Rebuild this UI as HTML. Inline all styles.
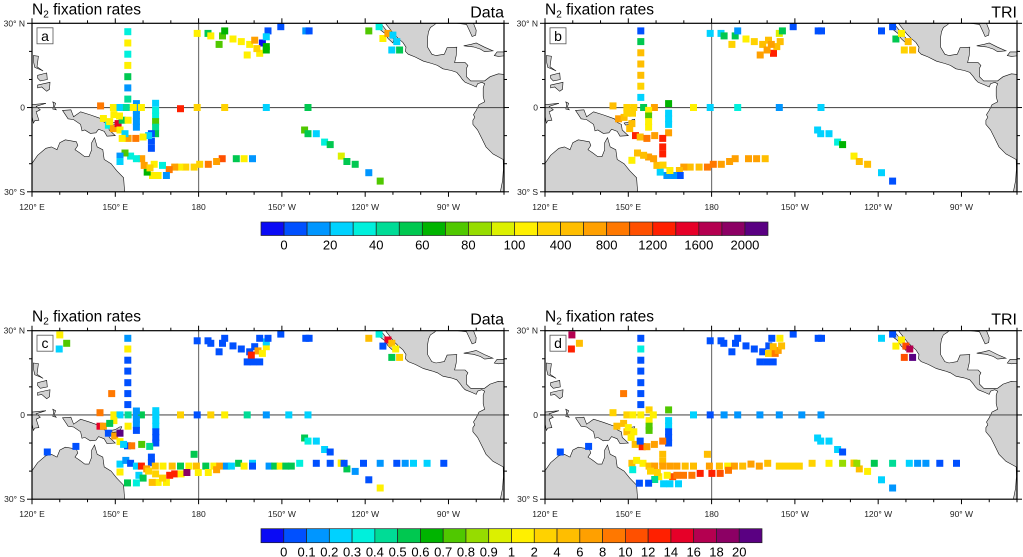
<!DOCTYPE html>
<html><head><meta charset="utf-8">
<style>
html,body{margin:0;padding:0;background:#fff;}
svg{display:block;font-family:"Liberation Sans",Arial,sans-serif;}
</style></head>
<body>
<svg id="fig" width="1023" height="557" viewBox="0 0 1023 557" xmlns="http://www.w3.org/2000/svg">
<defs>
<clipPath id="clipA"><rect x="32" y="23.3" width="472" height="168.5"/></clipPath>
<clipPath id="clipB"><rect x="545" y="23.3" width="472" height="168.5"/></clipPath>
<clipPath id="clipC"><rect x="32" y="330.7" width="472" height="168.5"/></clipPath>
<clipPath id="clipD"><rect x="545" y="330.7" width="472" height="168.5"/></clipPath>
</defs>
</svg>
<script>
// ---- data ----
const palette = ["#0a0af5","#0050ff","#0096ff","#00d2ff","#00f0dc","#00dc96","#00c850","#00b400","#50c800","#96dc00","#dcf000","#fff000","#ffd200","#ffbe00","#ffa000","#ff7800","#ff5000","#ff2000","#e60028","#b40050","#8c0064","#5a0082"];
const topBarLabels = ["0","20","40","60","80","100","400","800","1200","1600","2000"];
const bottomBarLabels = ["0","0.1","0.2","0.3","0.4","0.5","0.6","0.7","0.8","0.9","1","2","4","6","8","10","12","14","16","18","20"];
const lonTicks = [120,150,180,210,240,270];
const lonTickLabels = ["120° E","150° E","180","150° W","120° W","90° W"];
const latTicks = [30,0,-30];
const latTickLabels = ["30° N","0","30° S"];
// points: [lon(deg E), lat, colour class 1..22]
const panelA = [
[154.5,27,5],[154.5,23,12],[154.5,19,5],[154.5,15,12],[154.5,11,7],[154.5,7,3],[154.5,3,6],
[179.5,26.4,12],[183.4,26.4,7],[184.4,25.5,12],[187.4,22.5,9],[188.6,25.5,9],[189.4,27.3,8],[192.4,24.4,12],[195.4,23.5,12],[198.4,22.5,12],[197.5,18.7,12],[200.2,24,15],[202,19.3,12],[203,23,1],[204.4,21.7,8],[204.4,20.5,8],[205,27.3,2],[204.4,25.2,4],[201,21,13],[209.6,28.8,2],[218.6,27.3,3],[219.8,27.3,2],
[241.3,27.3,9],[245,28.8,5],[246.4,24.6,12],[248.2,26.4,15],[250,25.8,4],[251.4,23.5,4],[249.6,20.5,4],[252.4,20.5,7],
[173.5,-0.4,18],[179.5,0,13],[189.4,0,13],[204.4,0,4],[219.4,0,7],
[218.2,-8,9],[219.4,-9.3,7],[222.4,-9.3,4],[225.4,-12.3,5],[227.4,-13.2,7],[231.4,-17.3,11],[233.4,-19.2,7],[236.4,-20.2,7],[241.3,-23.2,3],[245.4,-26.2,9],
[188.5,-18.2,17],[186.5,-19.2,15],[183.5,-20.2,16],[180.4,-20.2,13],[178.4,-21.2,13],[175.4,-21.2,13],[173.2,-21.2,12],[171.4,-21.2,15],[169.4,-22.1,16],[168.4,-24.2,3],[165.4,-24.2,12],[163.4,-24.2,12],[161.5,-23,8],[160.4,-20.6,15],[159.5,-18.2,15],[157.6,-18.2,5],[155.5,-17.3,5],[153.5,-16.2,9],[151.7,-17.3,3],[151.7,-19.2,4],[164,-20.2,12],[167,-20.6,5],[162.5,-21.5,13],[193.6,-18.2,7],[196.4,-18.2,12],[199.4,-18.2,3],
[157.6,1.4,3],[157.6,-1,3],[157.6,-3,3],[157.6,-5,3],[157.6,-7,3],
[164.5,1.5,4],[164.5,-1,5],[164.5,-3,5],[164.5,-5,9],[164.5,-7,6],[164.5,-9.3,7],
[163,-9.3,2],[163,-12,2],[163,-14.5,2],
[144.7,0.6,16],[149.3,0,12],[151.7,0,4],[154,0,6],[159.4,0,12],[156.5,0,12],
[145.7,-3.9,12],[147.5,-6.3,5],[149.3,-7.5,15],[151,-5.7,19],[151.7,-8,12],[152.5,-4.5,7],[154.6,-4.5,12],[154.6,-11,15],[157.4,-11,16],[162,-10,4],[153.5,-9.3,4],[149.5,-2.5,12],[151.5,-3,12],[148,-5,12],[152.5,-11,12],[160,-10.5,12]
];
const panelB = [
[154.5,27.3,2],[154.5,23.5,7],[154.5,19.5,14],[154.5,15.5,14],[154.5,11.5,14],[154.5,7.6,13],[154.5,3.6,4],
[179.5,26.4,4],[183.4,26.4,4],[184.5,25.5,7],[187.3,22.5,13],[188.5,25.5,7],[189.4,27.3,3],[192.4,24.4,12],[195.4,23.5,13],[198.4,22.5,14],[197.5,18.7,15],[200.5,24,14],[202.3,19.3,18],[203.5,21.7,14],[204.7,23.5,14],[204.4,26.4,11],[205.5,27.3,7],[200,20.5,15],[201.5,22.5,15],[209.4,28.8,2],[218.4,27.3,2],[219.6,27.3,2],
[241.2,27.3,2],[245.2,28.8,2],[246.4,24.4,7],[248.4,26.4,12],[250.8,23.5,14],[249.4,20.5,13],[252.4,20.5,14],
[144.5,0.6,14],[149.5,0,13],[152,0,13],[155.5,0,7],[159.4,0,15],[164.5,1.4,8],[173.5,0,12],[179.5,0,4],[189.4,0,5],[204.4,0,3],[219.4,0,4],
[164.5,-2,4],[164.5,-4,4],[164.5,-6,4],[164.5,-9,15],[157.3,-1,12],[157.3,-3,9],[157.3,-5,12],[157.3,-7,12],
[162.4,-14,18],[162.4,-16.5,18],
[146.5,-4,15],[148.5,-3.5,14],[151.3,-5.7,14],[150.5,-7.5,14],[152.6,-10,18],[154.3,-10.5,14],[156.7,-11,16],[159.5,-10,15],[162.4,-11,18],[149.5,-2,13],[151.5,-2,13],
[218.2,-8,4],[219.3,-9.3,4],[222.3,-9.3,4],[225.4,-12.3,5],[227.2,-13.2,8],[231.3,-17.3,12],[233.2,-19.2,14],[236.2,-20.2,14],[241.2,-23.2,4],[245.2,-26.2,2],
[188.5,-18.2,15],[186.5,-19.2,15],[183.5,-20.2,15],[180.6,-20.2,16],[178.5,-21.2,16],[175.5,-21.2,14],[172.3,-21.2,14],[170,-21.2,15],[168.4,-22.4,14],[168.7,-24.2,2],[166.3,-24.2,3],[163.9,-24.2,3],[161.5,-23,4],[165,-22.4,12],[160.3,-20.6,14],[159.1,-18.2,15],[157.3,-17.6,15],[155.5,-17,14],[153.3,-16.2,14],[151.3,-18.8,12],[162.5,-20.5,13],[193.3,-18.2,15],[196.2,-18.2,15],[199.3,-18.2,14]
];
const panelC = [
[130,28.5,12],[132.5,25.5,9],[129.8,23.5,4],
[154.5,27.3,3],[154.5,23.5,12],[154.5,19.5,2],[154.5,15.6,2],[154.5,11.5,2],[154.5,7.6,2],[154.5,3.7,2],[148.7,7.6,16],
[179.5,26.4,2],[183.4,26.4,2],[184.4,25.5,2],[187.4,22.5,2],[188.6,25.5,2],[189.4,27.3,2],[192.4,24.6,2],[195.4,23.5,2],[198.4,22.5,2],[197.5,18.9,2],[199.6,18.9,2],[202,18.9,2],[200.2,24.3,2],[201.4,22.8,15],[203,21.9,12],[204.4,24.3,12],[204.4,26,4],[202,27.3,2],[205,27.3,2],[199,21.3,18],[209.6,28.8,2],[218.6,27.3,2],[219.8,27.3,2],
[241.3,27.3,14],[245,28.8,5],[248.2,26.7,19],[246.4,24.5,2],[249.6,25.5,14],[251,23.5,12],[249.6,20.5,7],[252.4,20.5,13],
[144.5,0.8,16],[149.5,0,12],[151.7,0,4],[154.6,0,6],[157.6,0,3],[159.4,0,7],[164.6,0,4],[173.5,0,13],[179.5,0,2],[184.4,0,13],[189.4,0,12],[197.5,0,6],[204.4,0,3],[212.5,0,4],[219.4,0,4],
[157.6,1.4,3],[157.6,-1.5,3],[157.6,-3.5,3],[157.6,-5.5,2],
[164.6,1.5,4],[164.6,-2,4],[164.6,-4,4],[164.6,-6,2],[164.6,-8,2],[164.6,-10,2],
[163,-15,2],[163,-17,2],
[144.5,-4,19],[145.7,-4,15],[147.5,-6.5,2],[149.8,-7.5,15],[151.7,-6.5,22],[151.7,-9.5,12],[149.5,-2,12],[148,-3,7],[154.6,-4,12],[154.4,-11,2],[155.9,-11,16],[159.5,-10.5,9],[153,-10.5,4],[162.4,-11.2,6],
[125.5,-13.2,2],[135.8,-11.2,2],
[218.2,-8.2,7],[219.4,-9.3,5],[222.4,-9.3,4],[225.4,-12.3,4],[227.4,-13.2,2],[231.4,-17.1,12],[233.4,-19.2,7],[236.4,-20.1,3],[241.3,-23.1,2],[245.4,-26,12],
[151.7,-17.5,4],[153.8,-16.2,3],[155.5,-17.2,2],[157.6,-18.2,4],[159.4,-18.2,18],[161.3,-19.2,15],[164.4,-18.2,14],[167.2,-18.2,12],[170.5,-18.2,14],[173.5,-18.2,7],[176.5,-18.2,12],[179.2,-18.2,14],[182.6,-18.2,7],[185.5,-18.2,12],[187.6,-18.2,15],[190,-18.2,3],[191.8,-18.2,4],[194.4,-17.2,7],[196.4,-18.2,12],[199.4,-17.2,4],[199.4,-18.2,2],[205.4,-18.2,3],[207.4,-18.2,7],[209.4,-18.2,12],[211.4,-18.2,7],[213.4,-18.2,7],[216.4,-17.2,5],[222.4,-17.2,2],[227.4,-17.2,2],[231.4,-17.2,12],[232.4,-17.2,2],[239.4,-17.2,2],[245.4,-17.2,3],[251.4,-17.2,2],[254.4,-17.2,3],[257.4,-17.2,4],[262.3,-17.2,4],[268.3,-17.2,2],
[178.4,-14,7],[158.5,-21.5,4],[160,-22.5,7],[165.4,-24,12],[168.4,-24,12],[163.3,-24,14],[169.6,-21.5,18],[171.4,-21,18],[173.7,-21,12],[175.8,-20.5,21],[179.9,-20.5,12],[183.5,-20.5,12],[186.5,-19.5,15],[154.4,-24.2,7],[157.6,-24.2,5],[151.7,-20.3,12],[162,-20,13],[164.5,-21,13],[167,-22.5,13]
];
const panelD = [
[129.7,28.5,20],[132.4,25.5,14],[129.5,23.5,18],[148.3,7.6,16],
[154.5,27.3,2],[154.5,23.5,5],[154.5,19.5,2],[154.5,15.6,2],[154.5,11.5,2],[154.5,7.6,2],[154.5,3.7,2],
[179.5,26.4,2],[183.4,26.4,2],[184.4,25.5,2],[187.3,22.5,2],[188.6,25.5,2],[189.4,27.3,2],[192.4,24.6,2],[195.4,23.5,2],[198.4,22.5,2],[197.4,18.9,2],[199.8,18.9,2],[202.2,18.9,2],[200.6,24.6,2],[201.7,27.3,2],[204.6,27.3,12],[200.5,21.9,13],[202.9,21.9,16],[204,23,15],[202.2,24.3,14],[205.2,24.6,14],[209.4,28.8,2],[218.4,27.3,2],[219.6,27.3,2],
[241.2,27.3,4],[245.2,28.8,2],[246.4,24.5,12],[248.4,26.7,12],[250,24.5,17],[251.4,23.5,20],[249.4,20.5,17],[252.4,20.5,22],
[144.5,0.8,13],[149.5,0,13],[151.7,0,12],[154.5,0,12],[157.5,1.8,13],[159,0,12],[164.5,1.8,9],[173.5,0,4],[179.5,0,2],[184.5,0,3],[189.4,0,3],[197.4,0,3],[204.4,0,3],[212.5,0,3],[219.4,0,3],
[164.5,-2,4],[164.5,-4,4],[164.5,-6,2],[164.5,-8,2],[164.5,-10,2],[157.5,-2,12],[157.5,-4,9],[157.5,-5.5,9],
[145.9,-4,14],[148.3,-3,14],[149.5,-6,14],[151,-8,12],[152.5,-10.5,14],[155,-11.3,18],[156.7,-11.3,15],[159.4,-10.5,15],[162.4,-9.3,16],[154.3,-9.3,2],[150,-4.5,12],[152,-6,12],
[125.5,-13.2,2],[135.7,-11.2,2],
[218.2,-8.2,4],[219.3,-9.3,4],[222.3,-9.3,4],[225.4,-12.3,4],[227.2,-13.2,2],[231.3,-17.1,12],[233.2,-19.2,14],[236.2,-20.1,12],[241.2,-23.1,4],[245.2,-26,3],
[151.3,-17.2,14],[153,-16.2,12],[155.3,-17.2,12],[157.5,-18.2,14],[159.5,-18.2,15],[162.4,-14,14],[162.4,-16.5,14],[162.4,-18.2,15],[165,-18.2,15],[167.5,-18.2,15],[170.5,-18.2,14],[173.5,-18.2,14],[178.5,-14,14],[179.2,-18.2,15],[182.8,-18.2,14],[185.8,-18.2,12],[188.2,-18.2,15],[191.2,-18.2,14],[194.2,-17.5,15],[197.2,-18.2,15],[200.2,-17.2,14],[204.4,-18.2,13],[206.8,-18.2,13],[209.2,-18.2,13],[211.6,-18.2,13],[216.2,-17.2,13],[222.3,-17.2,12],[227.2,-17.2,10],[231.3,-17.2,14],[232.3,-17.2,10],[238.6,-17.2,7],[245.2,-17.2,6],[251.2,-17.2,4],[254.2,-17.2,3],[257.2,-17.2,3],[262.2,-17.2,2],[268.2,-17.2,2],
[169.9,-21.5,16],[172.9,-21.5,16],[175.9,-20.8,18],[180.1,-20.8,18],[183.1,-20.8,17],[186.1,-19.7,16],[166,-22,17],[164,-21.5,12],[161,-22,12],[159.5,-23,6],[162.7,-24.5,4],[165,-24.5,4],[168.1,-24.5,4],[154,-24.3,2],[157.3,-24.3,2],[151.6,-19.5,5],[167.5,-21.5,16],[158,-20,13],[160.5,-20.5,13]
];
const panels = [
 {id:"a", x0:32, y0:23.3, pts:panelA, right:"Data", clip:"clipA"},
 {id:"b", x0:545, y0:23.3, pts:panelB, right:"TRI", clip:"clipB"},
 {id:"c", x0:32, y0:330.7, pts:panelC, right:"Data", clip:"clipC"},
 {id:"d", x0:545, y0:330.7, pts:panelD, right:"TRI", clip:"clipD"}
];
// land polygons (lon,lat)
const australia = [[118,-19.9],[120,-19.9],[122,-17],[125,-14.5],[127,-14],[129,-15],[130,-12.5],[132,-11.5],[135,-12],[136,-12.2],[136.5,-13.5],[135.5,-15],[137,-16],[139,-17.5],[140.5,-17.5],[141.5,-15],[141.5,-12.5],[142.5,-10.7],[143.5,-14],[145.5,-15],[146,-18.5],[148.5,-20],[150.5,-22.5],[153,-25],[153.2,-28],[153.5,-31],[118,-31]];
const newGuinea = [[131,-1],[134,-0.8],[135,-3.3],[137.5,-1.5],[141,-2.6],[145,-4],[146,-5.3],[147.5,-6],[147.8,-8],[150,-10],[147,-10.2],[146,-8.5],[144,-7.7],[143,-9],[141,-9.2],[139,-8],[138,-8.3],[137.5,-6],[135,-4.3],[133,-4],[132,-2.5]];
const newBritain = [[148.5,-5.5],[150,-5.2],[151.5,-4.3],[152.3,-4.2],[152,-5],[151,-6],[149,-6.2]];
const luzon = [[120.5,18.5],[122.3,18.3],[122,16],[121.8,14.5],[124,13],[123,13.5],[121,14.3],[120.6,16]];
const mindanao = [[122,8],[126.5,9],[126.3,6.5],[125.3,5.8],[123.5,7.3],[122,7]];
const visayas = [[122,11.5],[125.3,12.3],[125.5,10],[123,9.5],[122,10.5]];
const sulawesi = [[120,1],[125,1.5],[121.5,0.4],[123,-0.8],[121.5,-1.5],[122.5,-4.5],[121,-4.7],[120.5,-5.5],[120,-3]];
const halmahera = [[127.5,2],[128.5,1.5],[128,0],[128.7,-0.8],[127.5,-0.5],[127.8,1]];
const mexico = [[240,30.5],[247.3,30.5],[247.3,30],[250.5,26],[252,24.5],[253.6,23.2],[254.7,21.5],[254.5,20],[255.5,19],[258,18],[261,16.5],[264,15.7],[266,15],[268,13.8],[271,13.2],[273,12.5],[274.3,11],[275,10],[276,9],[278.5,8],[280,7.3],[280.5,8.5],[282,9],[283,8.5],[282.5,7],[282.5,4],[283,2],[281,1],[280,-1],[279,-2.5],[279.5,-3.5],[278.8,-4.5],[278.8,-6],[280.5,-8],[282,-11],[283.5,-14],[286,-16.5],[289.7,-18.5],[289.8,-22],[289.5,-26],[288.5,-31],[292,-31],[292,11.5],[290,11.8],[288,12],[285,11],[283,9.5],[280,9.5],[278,9.5],[276.5,11],[276.5,14],[277,15],[276,16],[272.2,16],[272.8,18.5],[273,21.5],[269.5,21.3],[268.5,19],[265.5,18.5],[264,19],[262.5,21.5],[262.5,25],[262.8,27],[263.5,28.5],[265,29.5],[266,30.5]];
const baja = [[244.2,31],[244.2,30],[245,28],[247,26.5],[248.3,24.5],[250,23],[250.3,24.2],[248.6,26.5],[247.2,28],[245.6,30],[245.6,31]];
const usa = [[268,31],[268,30.1],[271,30.3],[276.5,29.6],[277.5,27.5],[278.5,25.3],[279.8,25.8],[280,27.5],[279,30],[292,30],[292,31]];
const cuba = [[275.5,22],[278,22.5],[280,23],[283,21.5],[286,20.2],[283,19.9],[281.5,20.8],[279,21.6],[277,21.8]];
const hispaniola = [[287.5,19.8],[290.5,19.8],[291,18.5],[288,18.2],[286.5,18.5]];
const landShapes = [australia,newGuinea,newBritain,luzon,mindanao,visayas,sulawesi,halmahera,mexico,baja,usa,cuba,hispaniola];

// ---- drawing ----
const NS = "http://www.w3.org/2000/svg";
const svg = document.getElementById("fig");
const W = 472, H = 168.5;
function mk(tag, attrs, parent){ const e=document.createElementNS(NS,tag); for(const k in attrs) e.setAttribute(k,attrs[k]); (parent||svg).appendChild(e); return e; }
function xScale(p, lon){ return p.x0 + (lon-120)/170*W; }
function yScale(p, lat){ return p.y0 + (30-lat)/60*H; }

panels.forEach(p=>{
  const g = mk("g",{});
  
  
  const title = mk("text",{x:p.x0, y:p.y0-9, "font-size":"15.5"}, g);
  title.innerHTML = 'N<tspan font-size="10" dy="3">2</tspan><tspan dy="-3"> fixation rates</tspan>';
  
  
  const rt = mk("text",{x:p.x0+W, y:p.y0-6, "font-size":"16", "text-anchor":"end"}, g);
  rt.textContent = p.right;
  
  
  const cg = mk("g",{"clip-path":"url(#"+p.clip+")"}, g);
  landShapes.forEach(poly=>{
    const d = poly.map((q,i)=>(i?"L":"M")+xScale(p,q[0]).toFixed(1)+","+yScale(p,q[1]).toFixed(1)).join("")+"Z";
    const land = mk("path",{d:d, fill:"#d2d2d2", stroke:"#111", "stroke-width":"0.6"}, cg);
    
    
  });
  const gl1 = mk("line",{x1:xScale(p,180),x2:xScale(p,180),y1:p.y0,y2:p.y0+H,stroke:"#777","stroke-width":"1.2"}, cg);
  
  
  const gl2 = mk("line",{x1:p.x0,x2:p.x0+W,y1:yScale(p,0),y2:yScale(p,0),stroke:"#555","stroke-width":"1.2"}, cg);
  
  
  p.pts.forEach(pt=>{
    const r = mk("rect",{x:(xScale(p,pt[0])-3.5).toFixed(1), y:(yScale(p,pt[1])-3.5).toFixed(1), width:7, height:7, fill:palette[pt[2]-1]}, cg);
    
    
  });
  const fr = mk("rect",{x:p.x0,y:p.y0,width:W,height:H,fill:"none",stroke:"#000","stroke-width":"1.2"}, g);
  
  
  // lon ticks
  for(let lon=120; lon<=290; lon+=10){
    const major = lonTicks.indexOf(lon)>=0;
    const x = xScale(p,lon), len = major?5:3;
    const t1 = mk("line",{x1:x,x2:x,y1:p.y0+H,y2:p.y0+H+len,stroke:"#000","stroke-width":"1"}, g);
    
    
    const t2 = mk("line",{x1:x,x2:x,y1:p.y0,y2:p.y0-len,stroke:"#000","stroke-width":"1"}, g);
    
    
  }
  lonTicks.forEach((lon,i)=>{
    const t = mk("text",{x:xScale(p,lon), y:p.y0+H+18, "font-size":"8.5","text-anchor":"middle", fill:"#222"}, g);
    t.textContent = lonTickLabels[i];
    
    
  });
  for(let lat=-30; lat<=30; lat+=10){
    const major = latTicks.indexOf(lat)>=0;
    const y = yScale(p,lat), len = major?5:3;
    const t1 = mk("line",{x1:p.x0,x2:p.x0-len,y1:y,y2:y,stroke:"#000","stroke-width":"1"}, g);
    
    
    const t2 = mk("line",{x1:p.x0+W,x2:p.x0+W+len,y1:y,y2:y,stroke:"#000","stroke-width":"1"}, g);
    
    
  }
  latTicks.forEach((lat,i)=>{
    const t = mk("text",{x:p.x0-7, y:yScale(p,lat)+3, "font-size":"8.5","text-anchor":"end", fill:"#222"}, g);
    t.textContent = latTickLabels[i];
    
    
  });
  const lb = mk("rect",{x:p.x0+5,y:p.y0+4.5,width:16,height:16,fill:"#fff",stroke:"#555","stroke-width":"0.8"}, g);
  
  
  const lt = mk("text",{x:p.x0+13,y:p.y0+17.5,"font-size":"14","text-anchor":"middle"}, g);
  lt.textContent = p.id;
  
  
});

function colorbar(x0, y0, w, h, labels, step, name){
  const g = mk("g",{});
  
  
  const bw = w/palette.length;
  palette.forEach((c,i)=>{
    const r = mk("rect",{x:x0+i*bw,y:y0,width:bw,height:h,fill:c,stroke:"#222","stroke-width":"0.7"}, g);
    
    
  });
  labels.forEach((l,i)=>{
    const t = mk("text",{x:x0+(1+i*step)*bw, y:y0+h+14, "font-size":"13","text-anchor":"middle"}, g);
    t.textContent = l;
    
    
  });
}
colorbar(261, 222, 507, 13.5, topBarLabels, 2, "colorbar-top");
colorbar(261, 528.7, 501, 14, bottomBarLabels, 1, "colorbar-bottom");
</script>
</body></html>
